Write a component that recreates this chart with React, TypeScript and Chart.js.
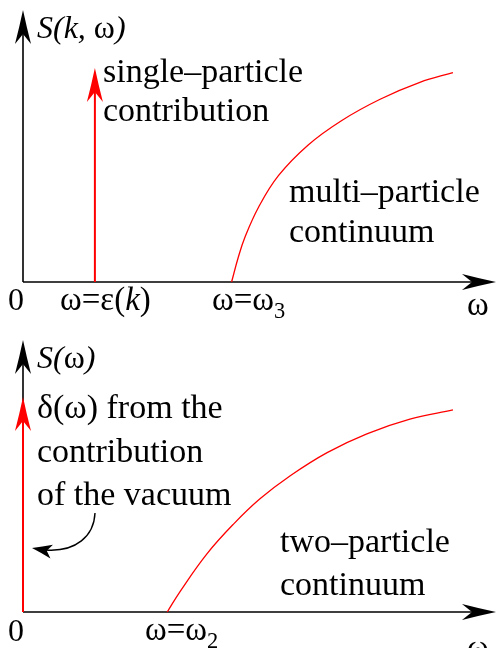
import React, { useEffect, useRef } from "react";
import { Chart, registerables } from "chart.js";
Chart.register(...registerables);

// ---- Data (axis units: x 0..10, y 0..10) ----
// Top panel: S(k, ω)
const topDeltaX = 1.52;
const topDeltaHeight = 7.87;
const topCurveX = [4.41, 4.55, 4.69, 4.98, 5.4, 6.03, 6.74, 7.55, 8.39, 9.09];
const topCurveY = [0, 0.9, 1.64, 2.75, 3.91, 5.04, 5.94, 6.72, 7.34, 7.7];

// Bottom panel: S(ω)
const bottomDeltaX = 0;
const bottomDeltaHeight = 7.9;
const bottomCurveX = [3.05, 3.32, 3.88, 4.45, 5.01, 5.65, 6.43, 7.27, 8.18, 9.09];
const bottomCurveY = [0, 0.75, 2.12, 3.23, 4.16, 5.01, 5.86, 6.55, 7.09, 7.43];

// Text labels
const topYTitle = [
  { t: "S", it: true },
  { t: "(", it: true },
  { t: "k", it: true },
  { t: ", ", it: true },
  { t: "ω" },
  { t: ")", it: true },
];
const topDeltaLabel = ["single–particle", "contribution"];
const topContinuumLabel = ["multi–particle", "continuum"];
const topTickLabels = [
  [{ t: "0" }],
  [{ t: "ω=ε(" }, { t: "k", it: true }, { t: ")" }],
  [{ t: "ω=ω" }, { t: "3", sub: true }],
];
const bottomYTitle = [{ t: "S", it: true }, { t: "(", it: true }, { t: "ω" }, { t: ")", it: true }];
const bottomDeltaLabel = ["δ(ω) from the", "contribution", "of the vacuum"];
const bottomContinuumLabel = ["two–particle", "continuum"];
const bottomTickLabels = [[{ t: "0" }], [{ t: "ω=ω" }, { t: "2", sub: true }]];
const xAxisTitle = "ω";

type Seg = { t: string; it?: boolean; sub?: boolean };
const FONT = '"Liberation Serif", "Times New Roman", serif';

function drawRich(ctx: CanvasRenderingContext2D, segs: Seg[], x: number, y: number, size: number) {
  let cx = x;
  for (const s of segs) {
    const fs = s.sub ? size * 0.68 : size;
    ctx.font = `${s.it ? "italic " : ""}${fs}px ${FONT}`;
    ctx.fillText(s.t, cx, y + (s.sub ? size * 0.25 : 0));
    cx += ctx.measureText(s.t).width;
  }
}

function arrowHead(
  ctx: CanvasRenderingContext2D,
  tx: number,
  ty: number,
  dx: number,
  dy: number,
  len: number,
  hw: number,
  notch: number,
  color: string
) {
  const n = Math.hypot(dx, dy);
  dx /= n;
  dy /= n;
  const px = -dy,
    py = dx;
  const bx = tx - dx * len,
    by = ty - dy * len;
  const nx = tx - dx * (len - notch),
    ny = ty - dy * (len - notch);
  const c1x = tx - dx * len * 0.5 + px * hw * 0.45,
    c1y = ty - dy * len * 0.5 + py * hw * 0.45;
  const c2x = tx - dx * len * 0.5 - px * hw * 0.45,
    c2y = ty - dy * len * 0.5 - py * hw * 0.45;
  ctx.beginPath();
  ctx.moveTo(tx, ty);
  ctx.quadraticCurveTo(c1x, c1y, bx + px * hw, by + py * hw);
  ctx.lineTo(nx, ny);
  ctx.lineTo(bx - px * hw, by - py * hw);
  ctx.quadraticCurveTo(c2x, c2y, tx, ty);
  ctx.closePath();
  ctx.fillStyle = color;
  ctx.fill();
}

type PanelCfg = {
  deltaX: number;
  deltaH: number;
  curveX: number[];
  curveY: number[];
  padding: { left: number; right: number; top: number; bottom: number };
  draw: (ctx: CanvasRenderingContext2D, chart: any) => void;
};

function axesPlugin() {
  return {
    id: "axes",
    beforeDatasetsDraw(chart: any) {
      const ctx: CanvasRenderingContext2D = chart.ctx;
      const a = chart.chartArea;
      const y0 = chart.scales.y.getPixelForValue(0);
      const x0 = chart.scales.x.getPixelForValue(0);
      ctx.save();
      ctx.strokeStyle = "#000";
      ctx.lineWidth = 1.6;
      ctx.beginPath();
      ctx.moveTo(x0, y0);
      ctx.lineTo(a.right - 20, y0);
      ctx.moveTo(x0, y0);
      ctx.lineTo(x0, a.top + 20);
      ctx.stroke();
      arrowHead(ctx, a.right, y0, 1, 0, 34, 8, 10, "#000");
      arrowHead(ctx, x0, a.top, 0, -1, 34, 8, 10, "#000");
      ctx.restore();
    },
  };
}

function overlayPlugin(cfg: PanelCfg) {
  return {
    id: "overlay",
    afterDatasetsDraw(chart: any) {
      const ctx: CanvasRenderingContext2D = chart.ctx;
      const xs = chart.scales.x,
        ys = chart.scales.y;
      ctx.save();
      arrowHead(ctx, xs.getPixelForValue(cfg.deltaX), ys.getPixelForValue(cfg.deltaH), 0, -1, 34, 8, 10, "#ff0000");
      ctx.fillStyle = "#000";
      ctx.textBaseline = "alphabetic";
      ctx.textAlign = "left";
      cfg.draw(ctx, chart);
      ctx.restore();
    },
  };
}

function drawLines(ctx: CanvasRenderingContext2D, lines: string[], x: number, y: number, gap: number, size: number) {
  lines.forEach((l, i) => drawRich(ctx, [{ t: l }], x, y + i * gap, size));
}

const topCfg: PanelCfg = {
  deltaX: topDeltaX,
  deltaH: topDeltaHeight,
  curveX: topCurveX,
  curveY: topCurveY,
  padding: { left: 23, right: 0, top: 10, bottom: 42 },
  draw(ctx) {
    drawRich(ctx, topYTitle, 37, 38, 32);
    drawLines(ctx, topDeltaLabel, 103, 82, 39, 34);
    drawLines(ctx, topContinuumLabel, 289, 202, 40, 34);
    drawRich(ctx, topTickLabels[0], 8, 310, 32);
    drawRich(ctx, topTickLabels[1], 60, 310, 33);
    drawRich(ctx, topTickLabels[2], 212, 310, 33);
    drawRich(ctx, [{ t: xAxisTitle }], 467, 315, 33);
  },
};

const bottomCfg: PanelCfg = {
  deltaX: bottomDeltaX,
  deltaH: bottomDeltaHeight,
  curveX: bottomCurveX,
  curveY: bottomCurveY,
  padding: { left: 23, right: 0, top: 16, bottom: 36 },
  draw(ctx) {
    drawRich(ctx, bottomYTitle, 37, 44, 32);
    drawLines(ctx, bottomDeltaLabel, 37, 94, 43.5, 34);
    drawLines(ctx, bottomContinuumLabel, 280, 228, 43, 34);
    drawRich(ctx, bottomTickLabels[0], 8, 317, 32);
    drawRich(ctx, bottomTickLabels[1], 145, 316, 33);
    drawRich(ctx, [{ t: xAxisTitle }], 467, 334, 33);
    // curved pointer arrow
    ctx.strokeStyle = "#000";
    ctx.lineWidth = 1.4;
    ctx.beginPath();
    ctx.moveTo(95, 189);
    ctx.bezierCurveTo(94, 212, 76, 228, 46, 226);
    ctx.stroke();
    arrowHead(ctx, 32, 224, -1, -0.18, 20, 7, 5, "#000");
  },
};

function Panel({ cfg }: { cfg: PanelCfg }) {
  const ref = useRef<HTMLCanvasElement>(null);
  useEffect(() => {
    const chart = new Chart(ref.current as HTMLCanvasElement, {
      type: "line",
      data: {
        datasets: [
          {
            data: cfg.curveX.map((x, i) => ({ x, y: cfg.curveY[i] })),
            borderColor: "#ff0000",
            borderWidth: 1.3,
            pointRadius: 0,
            tension: 0.4,
            fill: false,
            clip: false,
          },
          {
            data: [
              { x: cfg.deltaX, y: 0 },
              { x: cfg.deltaX, y: cfg.deltaH - 0.6 },
            ],
            borderColor: "#ff0000",
            borderWidth: 2,
            pointRadius: 0,
            fill: false,
            clip: false,
          },
        ],
      } as any,
      options: {
        animation: false,
        responsive: false,
        devicePixelRatio: 1,
        layout: { padding: cfg.padding },
        scales: {
          x: { type: "linear", min: 0, max: 10, display: false },
          y: { type: "linear", min: 0, max: 10, display: false },
        },
        plugins: { legend: { display: false }, tooltip: { enabled: false } },
        events: [],
      } as any,
      plugins: [axesPlugin(), overlayPlugin(cfg)],
    });
    return () => chart.destroy();
  }, [cfg]);
  return <canvas ref={ref} width={496} height={324} style={{ display: "block", width: 496, height: 324 }} />;
}

export default function App() {
  return (
    <div style={{ position: "absolute", left: 0, top: 0, width: 496, height: 648, background: "#fff" }}>
      <Panel cfg={topCfg} />
      <Panel cfg={bottomCfg} />
    </div>
  );
}
